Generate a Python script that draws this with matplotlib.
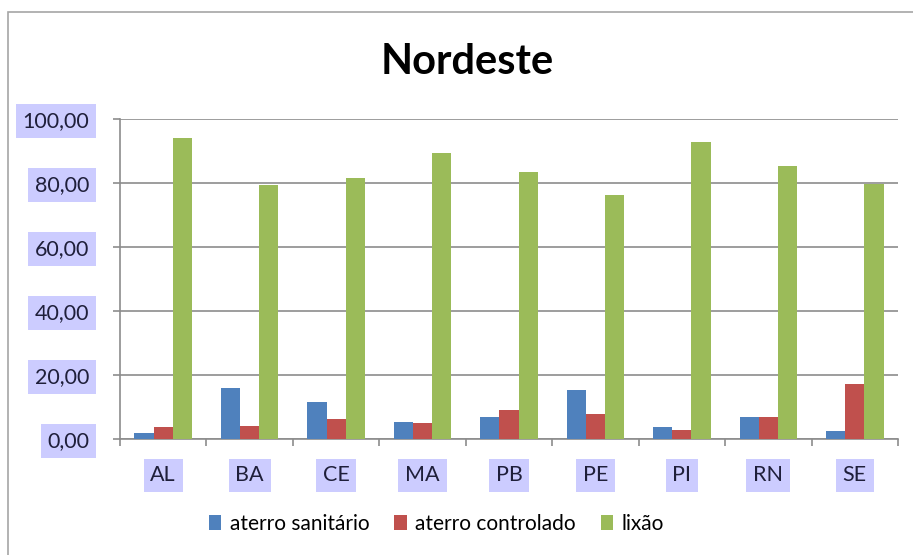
import numpy as np
import matplotlib
matplotlib.use("Agg")
import matplotlib.pyplot as plt
from matplotlib.patches import Rectangle, Patch
from matplotlib.ticker import FuncFormatter, MultipleLocator

plt.rcParams['font.family'] = ['Lato', 'DejaVu Sans']

estados = ['AL', 'BA', 'CE', 'MA', 'PB', 'PE', 'PI', 'RN', 'SE']
aterro_sanitario = [1.9, 16.0, 11.6, 5.3, 6.9, 15.3, 3.8, 6.9, 2.5]
aterro_controlado = [3.8, 4.0, 6.1, 4.9, 9.2, 7.8, 2.8, 6.9, 17.2]
lixao = [94.1, 79.4, 81.5, 89.4, 83.3, 76.2, 92.8, 85.4, 79.8]

series = [('aterro sanitário', aterro_sanitario, '#4F81BD'),
          ('aterro controlado', aterro_controlado, '#C0504D'),
          ('lixão', lixao, '#9BBB59')]

fig = plt.figure(figsize=(9.13, 5.55), dpi=100)
fig.patches.append(Rectangle((8 / 913, -0.1), 1.2, 1 - 12 / 555 + 0.1,
                             transform=fig.transFigure, fill=False,
                             edgecolor='#A6A6A6', linewidth=1.2))

ax = fig.add_axes([120 / 913, 1 - 439 / 555, 778 / 913, 320 / 555])

x = np.arange(len(estados))
w = 1 / 4.5
for i, (nome, vals, cor) in enumerate(series):
    ax.bar(x + (i - 1) * w, vals, width=w, color=cor, label=nome, zorder=3)

ax.set_xlim(-0.5, len(estados) - 0.5)
ax.set_ylim(0, 100)
ax.yaxis.set_major_locator(MultipleLocator(20))
ax.yaxis.set_major_formatter(FuncFormatter(lambda v, p: f'{v:.2f}'.replace('.', ',')))
ax.grid(axis='y', color='#8C8C8C', linewidth=1.2, zorder=0)
ax.set_xticks(x)
ax.set_xticklabels(estados)
ax.set_xticks(np.arange(len(estados) + 1) - 0.5, minor=True)
ax.tick_params(axis='x', which='major', length=0, pad=19)
ax.tick_params(axis='x', which='minor', length=5, color='#8C8C8C', width=1.2)
ax.tick_params(axis='y', length=5, color='#8C8C8C', width=1.2, pad=17)
ax.tick_params(labelsize=15.5, labelcolor='#1F1F3A')
for s in ['top', 'right']:
    ax.spines[s].set_visible(False)
for s in ['left', 'bottom']:
    ax.spines[s].set_color('#8C8C8C')
    ax.spines[s].set_linewidth(1.2)

for lab in ax.get_yticklabels() + ax.get_xticklabels():
    lab.set_bbox(dict(boxstyle='square,pad=0.32', facecolor='#CCCCFF', edgecolor='none'))

fig.text(0.512, 1 - 62 / 555, 'Nordeste', ha='center', va='center',
         fontsize=30, fontweight='bold', color='black')

handles = [Patch(facecolor=c, label=n) for n, _, c in series]
fig.legend(handles=handles, loc='center', bbox_to_anchor=(0.478, 1 - 524 / 555),
           ncol=3, frameon=False, fontsize=15, handlelength=0.6, handleheight=0.75,
           handletextpad=0.4, columnspacing=1.2)

fig.savefig('out.png', dpi=100)
